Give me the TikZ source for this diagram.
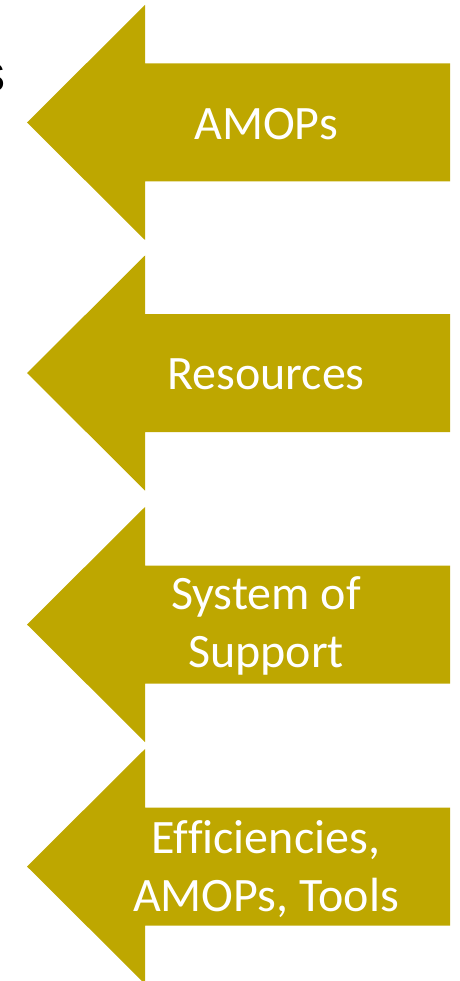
\documentclass[tikz,border=0pt]{standalone}
\usepackage{fontspec}
\setmainfont{Carlito}[Ligatures=NoCommon]
\newfontfamily\arialfont{Liberation Sans}
\definecolor{gold}{RGB}{190,167,0}
\tikzset{
  bigarrow/.style={fill=gold, draw=none},
  lbl/.style={text=white, font=\fontsize{48}{58}\selectfont, align=center, inner sep=0pt}
}
\newcommand{\leftarrowshape}[1]{%
  \fill[bigarrow] (27,#1) -- (145,#1-117.5) -- (145,#1-59) -- (450,#1-59) -- (450,#1+59) -- (145,#1+59) -- (145,#1+117.5) -- cycle;}
\begin{document}
\begin{tikzpicture}[x=1pt,y=-1pt]
\useasboundingbox (0,0) rectangle (459,981);
\leftarrowshape{122.5}
\leftarrowshape{373}
\leftarrowshape{624.5}
\leftarrowshape{866.5}
\node[anchor=base east, inner sep=0pt, font=\arialfont\fontsize{52}{60}\selectfont] (s) at (6,92) {s};
\node[lbl] (t1) at (266,124) {AMOPs};
\node[lbl] (t2) at (266,374) {Resources};
\node[lbl] (t3) at (266,626) {System of\\Support};
\node[lbl] (t4) at (266,869) {Efficiencies,\\AMOPs, Tools};
\end{tikzpicture}
\end{document}
